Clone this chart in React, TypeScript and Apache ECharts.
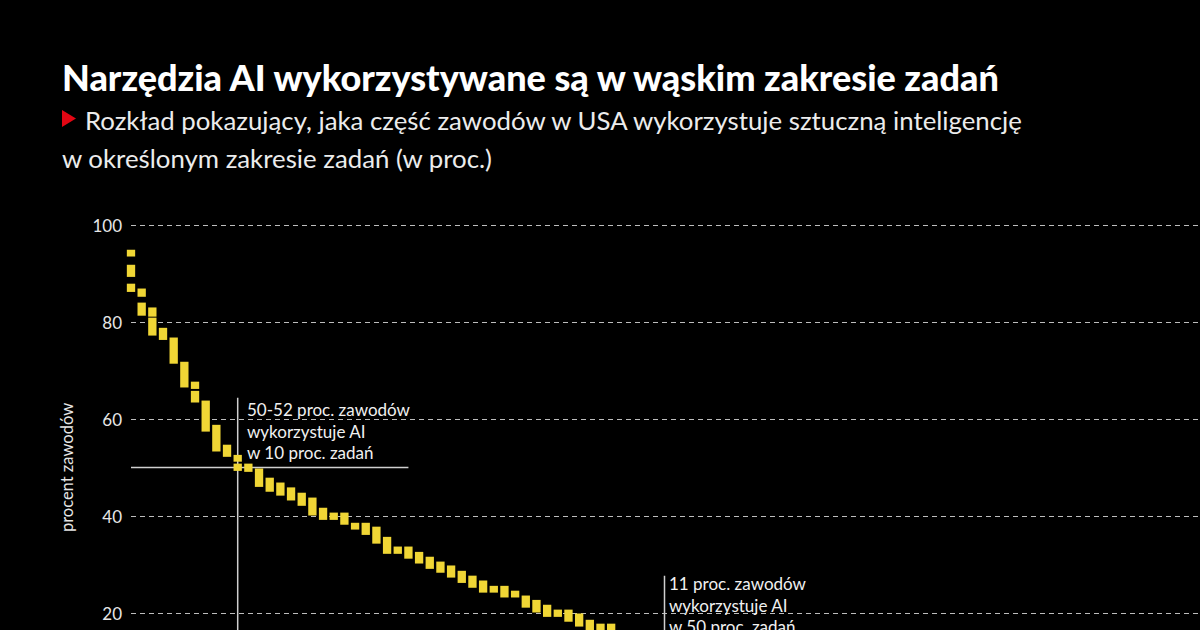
import React, { useEffect, useRef } from "react";
import * as echarts from "echarts";

// Each yellow block: column (share of tasks, %), lower and upper bound (share of occupations, %)
const segColumn = [
  0, 0, 0, 1, 1, 2, 2, 3, 4, 5, 6, 6, 7, 8, 9, 10, 10, 11, 12, 13, 14, 15, 16, 17, 18, 19, 20,
  21, 22, 23, 24, 25, 26, 27, 28, 29, 30, 31, 32, 33, 34, 35, 36, 37, 38, 39, 40, 41, 42, 43, 44, 45,
];
const segLow = [
  93.5, 89.3, 86.2, 85.2, 81.3, 81.1, 77.2, 76.3, 71.4, 66.5, 66.2, 63.4, 57.4, 53.3, 52.2, 51.2, 49.3,
  49.1, 46.0, 45.0, 44.2, 43.2, 42.1, 40.1, 39.2, 39.2, 38.2, 37.2, 36.1, 34.3, 32.2, 32.2, 31.2, 30.2,
  29.1, 28.3, 27.3, 26.2, 25.2, 24.2, 24.2, 23.2, 23.2, 21.1, 20.1, 19.2, 19.2, 18.2, 17.2, 16.2, 16.2, 16.2,
];
const segHigh = [
  94.9, 91.8, 87.9, 86.9, 84.0, 83.0, 80.9, 78.8, 76.8, 71.8, 67.7, 65.8, 63.8, 58.8, 54.7, 52.6, 50.8,
  50.8, 49.8, 47.9, 46.9, 45.9, 44.8, 43.8, 41.7, 40.7, 40.7, 38.6, 38.6, 37.8, 35.7, 33.7, 33.7, 32.6,
  31.6, 30.6, 29.8, 28.7, 27.7, 26.7, 25.6, 25.6, 24.6, 23.6, 22.7, 21.7, 20.7, 20.7, 19.9, 18.6, 17.8, 17.8,
];

// tick labels visible in the picture
const yTicks = [20, 40, 60, 80, 100];

const TITLE = "Narzędzia AI wykorzystywane są w wąskim zakresie zadań";
const SUB1 = "Rozkład pokazujący, jaka część zawodów w USA wykorzystuje sztuczną inteligencję";
const SUB2 = "w określonym zakresie zadań (w proc.)";
const NOTE1 = ["50-52 proc. zawodów", "wykorzystuje AI", "w 10 proc. zadań"];
const NOTE2 = ["11 proc. zawodów", "wykorzystuje AI", "w 50 proc. zadań"];

// annotation guide lines (data coords)
const guide1V = [[10, 64.4], [10, 0]];
const guide1H = [[0, 50], [26, 50]];
const guide2V = [[50, 27.7], [50, 0]];

const YELLOW = "#f0d635";
const FONT = "Lato, 'Noto Sans', sans-serif";

export default function App() {
  const ref = useRef<HTMLDivElement>(null);
  useEffect(() => {
    document.documentElement.style.overflow = "hidden";
    document.body.style.overflow = "hidden";
    document.body.style.margin = "0";
    document.body.style.background = "#000";
    const chart = echarts.init(ref.current!, undefined, { renderer: "svg" });
    const data = segColumn.map((c, i) => [c, segLow[i], segHigh[i]]);
    const guideStyle = { color: "#cfcfcf", width: 1.5 };
    const guideSeries = (d: number[][]) => ({
      type: "line",
      data: d,
      symbol: "none",
      silent: true,
      lineStyle: guideStyle,
      z: 1,
    });
    chart.setOption({
      animation: false,
      backgroundColor: "#000",
      textStyle: { fontFamily: FONT },
      grid: { left: 131, right: 2, top: 225, bottom: 50 },
      xAxis: {
        type: "value",
        min: 0,
        max: 100,
        show: false,
      },
      yAxis: {
        type: "value",
        min: 0,
        max: 100,
        interval: 20,
        name: "procent zawodów",
        nameLocation: "middle",
        nameGap: 56,
        nameTextStyle: { color: "#e6e6e6", fontSize: 16.5, fontFamily: FONT },
        axisLine: { show: false },
        axisTick: { show: false },
        axisLabel: {
          color: "#e6e6e6",
          fontSize: 17,
          fontFamily: FONT,
          margin: 9,
          formatter: (v: number) => (yTicks.includes(v) ? String(v) : ""),
        },
        splitLine: {
          show: true,
          lineStyle: { color: "#bdbdbd", width: 1, type: [5, 4] },
        },
      },
      series: [
        guideSeries(guide1V),
        guideSeries(guide1H),
        guideSeries(guide2V),
        {
          type: "custom",
          clip: false,
          z: 3,
          encode: { x: 0, y: [1, 2] },
          data,
          renderItem: (params: any, api: any) => {
            const x = api.value(0);
            const lo = api.value(1);
            const hi = api.value(2);
            const top = api.coord([x, hi]);
            const bot = api.coord([x, lo]);
            const w = api.size([1, 0])[0] * 0.78;
            return {
              type: "rect",
              shape: { x: top[0] - w / 2, y: top[1], width: w, height: bot[1] - top[1] },
              style: { fill: YELLOW },
            };
          },
        },
      ],
      graphic: [
        {
          type: "text",
          x: 62,
          y: 77,
          style: {
            text: TITLE,
            fill: "#ffffff",
            font: `900 36px ${FONT}`,
            verticalAlign: "middle",
          },
        },
        {
          type: "polygon",
          shape: { points: [[62, 110], [62, 127], [76, 118.5]] },
          style: { fill: "#e30613" },
        },
        {
          type: "text",
          x: 85,
          y: 120,
          style: {
            text: SUB1,
            fill: "#ececec",
            font: `400 25.8px ${FONT}`,
            verticalAlign: "middle",
          },
        },
        {
          type: "text",
          x: 62,
          y: 158,
          style: {
            text: SUB2,
            fill: "#ececec",
            font: `400 25.8px ${FONT}`,
            verticalAlign: "middle",
          },
        },
        {
          type: "text",
          x: 247,
          y: 399,
          z: 10,
          style: {
            text: NOTE1.join("\n"),
            fill: "#f0f0f0",
            font: `400 17px ${FONT}`,
            lineHeight: 21.5,
            verticalAlign: "top",
          },
        },
        {
          type: "text",
          x: 669,
          y: 573,
          z: 10,
          style: {
            text: NOTE2.join("\n"),
            fill: "#f0f0f0",
            font: `400 17px ${FONT}`,
            lineHeight: 21.5,
            verticalAlign: "top",
          },
        },
      ],
    });
    return () => chart.dispose();
  }, []);
  return <div ref={ref} style={{ width: 1200, height: 760, background: "#000" }} />;
}
